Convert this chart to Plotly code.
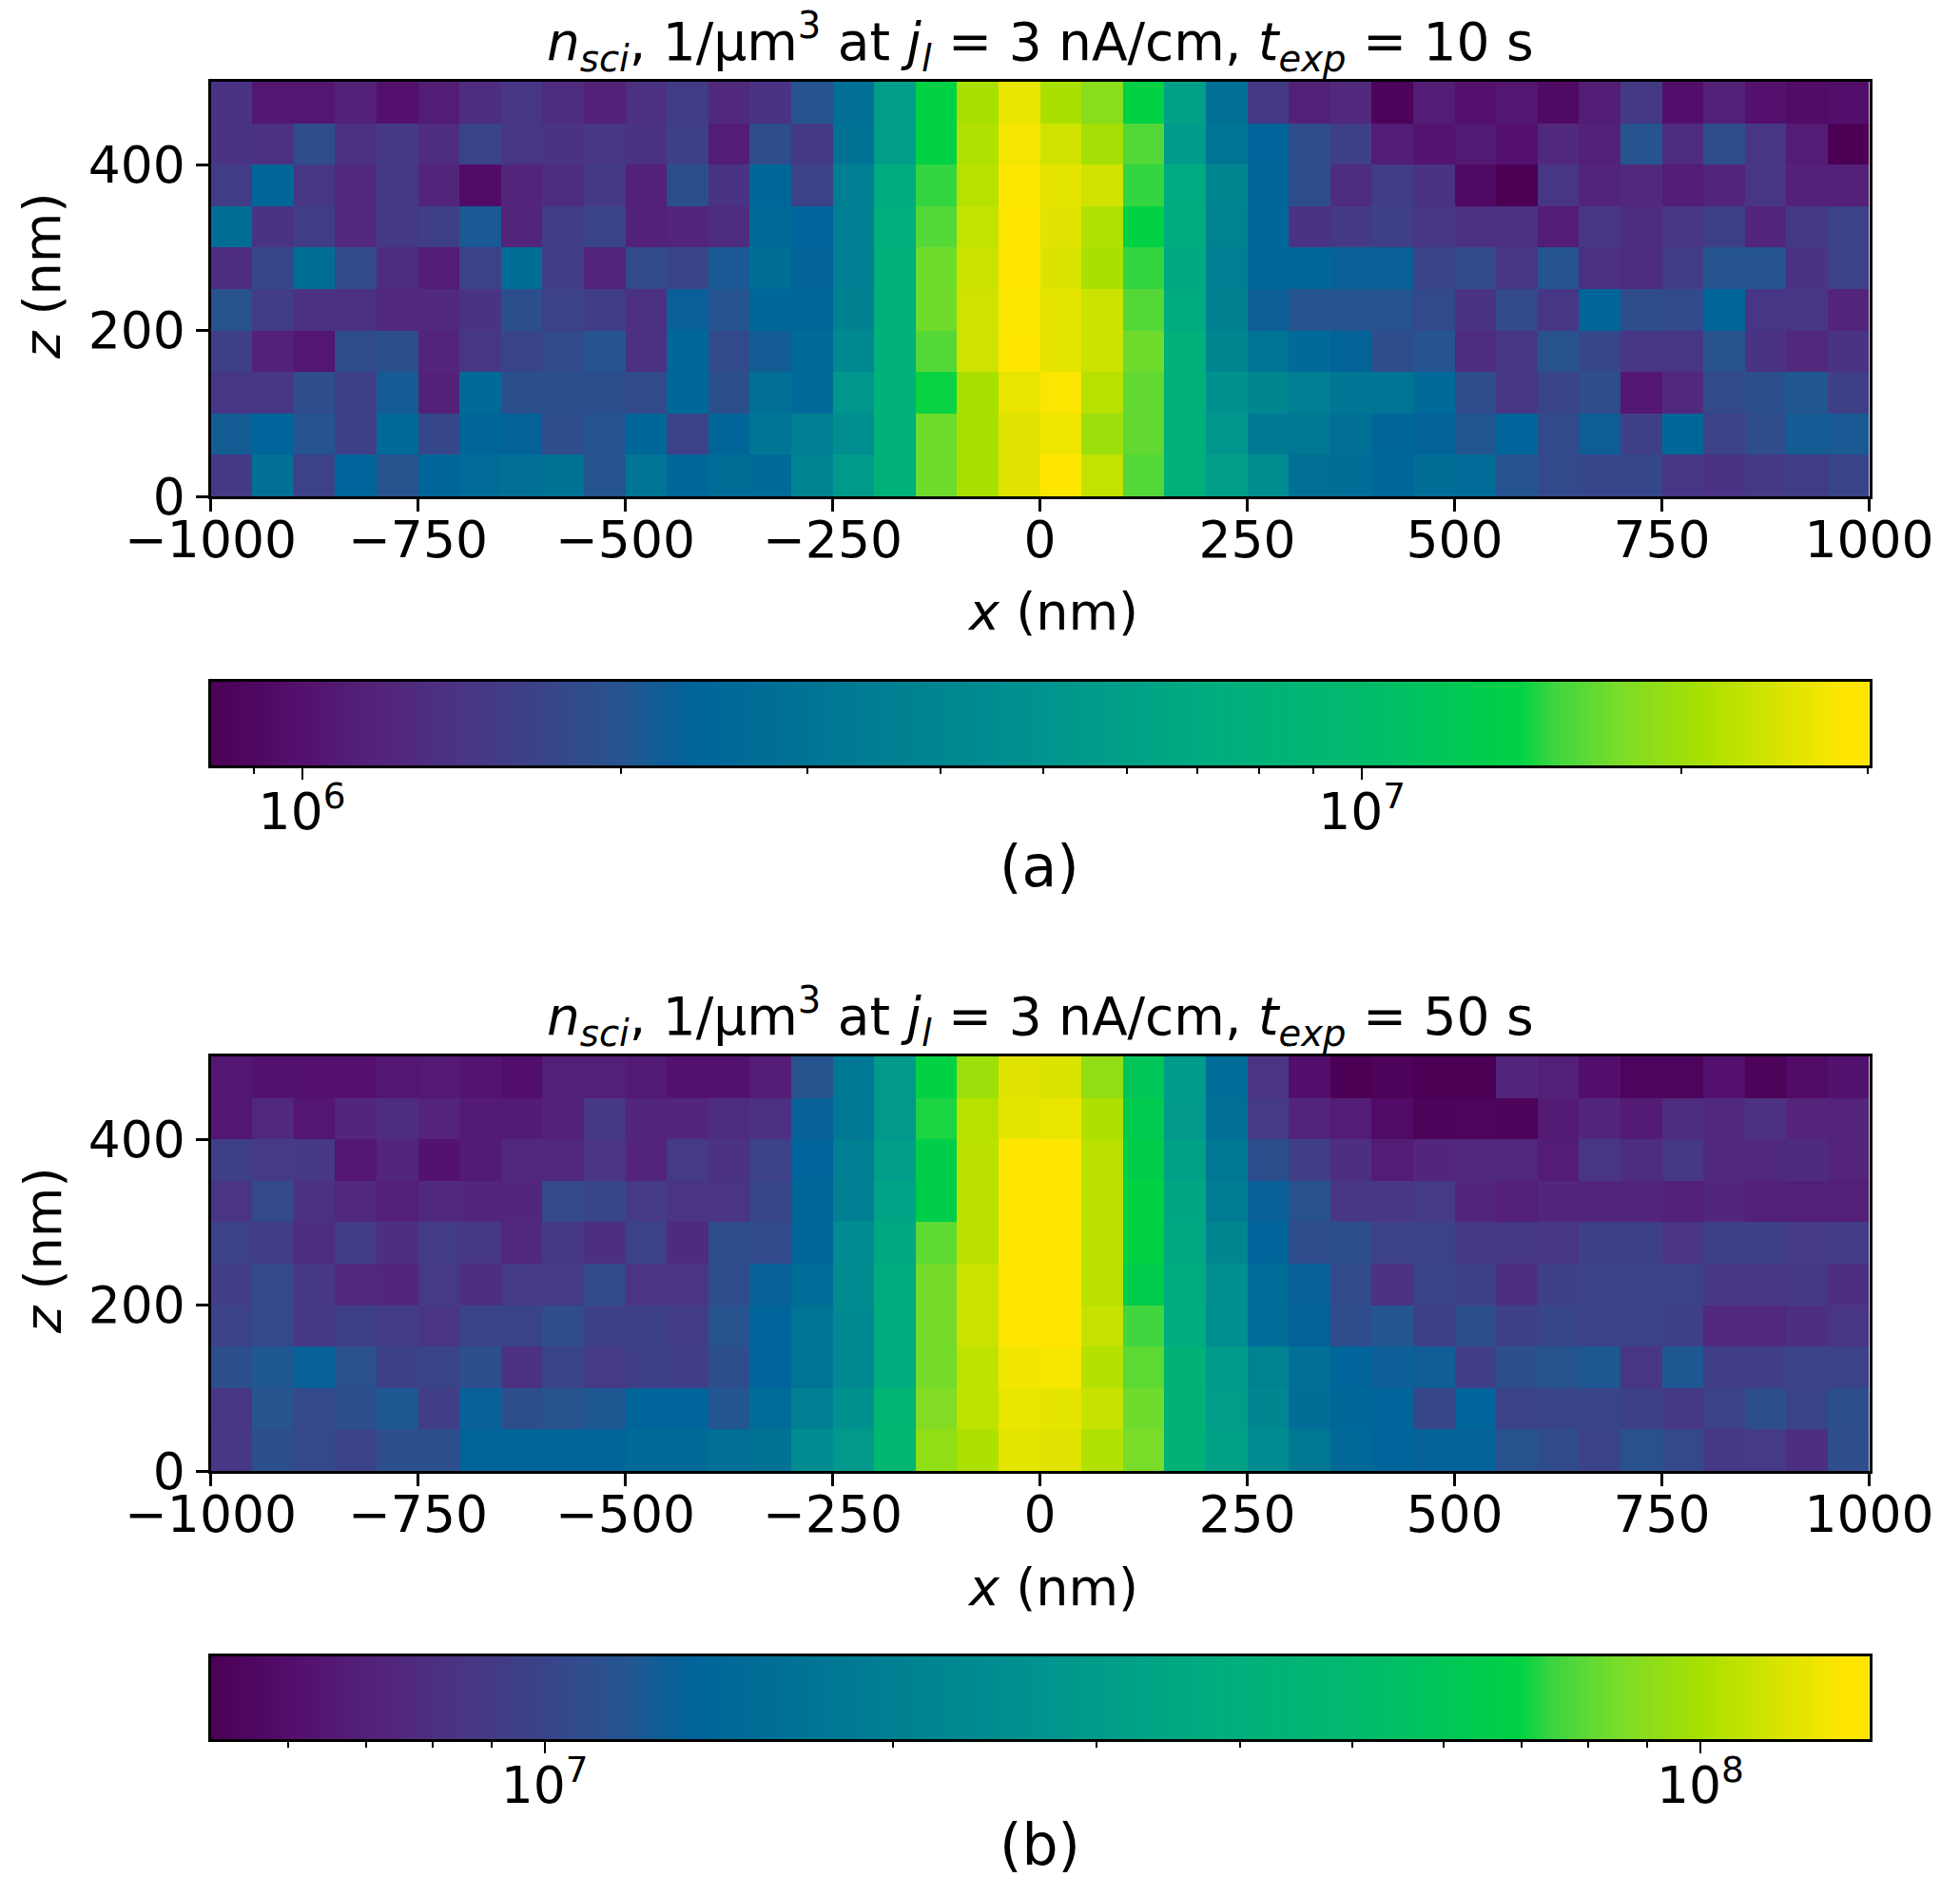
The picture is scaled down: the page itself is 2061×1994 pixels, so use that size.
import numpy as np
import plotly.graph_objects as go

W, H = 2061, 1994

# Cell centres (nm); rows listed from the top of the panel (z = 475) down to z = 25
x_nm = list(range(-975, 1000, 50))
z_nm = list(range(475, 0, -50))

# n_sci, in units of 10^6 per um^3, t_exp = 10 s
n_a = [
 [1.4,1.05,1.05,1.15,1.0,1.1,1.3,1.45,1.3,1.15,1.35,1.55,1.25,1.4,2.0,2.8,5.8,14,21,26.5, 21,18.5,14,6,2.8,1.5,1.15,1.25,.85,1.1,1.0,1.05,.92,1.1,1.5,.97,1.15,1.0,.95,.97],
 [1.4,1.35,1.85,1.35,1.5,1.3,1.7,1.45,1.4,1.45,1.4,1.6,1.1,1.85,1.5,2.9,5.8,14,21.5,27.5, 24,20.5,16,5.6,3.0,2.35,1.85,1.6,1.1,1.02,1.08,1.0,1.25,1.15,2.0,1.3,1.85,1.45,1.1,.82],
 [1.55,2.4,1.45,1.25,1.5,1.2,.95,1.2,1.3,1.5,1.15,1.9,1.4,2.45,1.65,3.5,7.2,15,22,28, 26,24,15,7,4,2.4,1.85,1.3,1.55,1.4,.92,.82,1.45,1.2,1.25,1.1,1.2,1.45,1.15,1.15],
 [2.7,1.4,1.55,1.25,1.5,1.6,2.1,1.2,1.55,1.7,1.15,1.2,1.3,2.6,2.35,3.6,7.4,16,23,29.5, 25.5,21.5,14,7.2,3.8,2.5,1.4,1.5,1.6,1.45,1.35,1.35,1.1,1.45,1.3,1.45,1.6,1.2,1.5,1.65],
 [1.3,1.75,2.7,1.8,1.3,1.1,1.65,2.7,1.55,1.2,1.8,1.7,2.1,2.75,2.3,3.6,8,17,23.5,29.5, 25,21,15,6.8,3.6,2.45,2.45,2.25,2.25,1.7,1.8,1.45,2.0,1.35,1.3,1.55,2.0,2.0,1.4,1.65],
 [1.95,1.55,1.35,1.35,1.25,1.25,1.4,1.9,1.65,1.55,1.35,2.25,2.0,2.5,2.5,3.7,8,17,24,28, 26,23.5,16,7.2,3.7,2.2,2.0,2.0,2.0,1.8,1.4,1.8,1.45,2.4,1.85,1.8,2.4,1.45,1.45,1.2],
 [1.6,1.15,1.05,1.85,1.9,1.2,1.45,1.7,1.8,2.0,1.35,2.45,1.8,2.15,2.55,4.2,8,16,24,29, 26,23.5,17,7.8,4,3.0,2.6,2.3,1.85,2.0,1.3,1.45,1.95,1.75,1.45,1.45,1.95,1.4,1.25,1.4],
 [1.45,1.45,1.85,1.6,2.15,1.15,2.55,1.9,1.9,1.9,1.8,2.5,1.9,2.8,2.6,5.2,8,14.3,21,26.5, 28,22,16.5,7.8,4.8,4,3.6,3.1,3.0,2.6,1.85,1.45,1.7,1.85,1.05,1.25,1.8,1.9,2.05,1.6],
 [2.15,2.35,2.0,1.6,2.55,1.75,2.4,2.3,1.85,2.0,2.45,1.65,2.4,3.1,3.6,4.6,8,17,21,25.5, 27,20,16.5,7.8,5.2,3.3,3.2,2.8,2.4,2.3,2.05,2.35,1.8,2.2,1.6,2.5,1.65,1.85,2.15,2.1],
 [1.5,2.8,1.65,2.35,1.95,2.4,2.65,2.8,2.95,2.0,3.0,2.45,2.7,2.55,3.9,5.5,8,17,21,25.5, 30,23,16,7.8,5.8,4.5,2.8,2.75,2.45,2.75,2.65,2.0,1.8,1.75,1.75,1.45,1.4,1.5,1.55,1.7],
]

# n_sci, in units of 10^6 per um^3, t_exp = 50 s
n_b = [
 [6.5,6.2,6.1,6.1,6.5,6.6,6.3,6.0,6.9,6.9,6.7,6.2,6.2,6.8,11.5,18,29,70,96,120, 118,92,60,30,15,8.5,6.0,5.15,5.3,5.1,5.15,7.3,6.9,6.0,5.4,5.4,6.1,5.3,5.8,6.2],
 [6.5,7.6,6.4,7.4,7.8,7.2,6.7,6.7,7.0,8.8,7.4,7.4,7.8,8.2,13,18,29,72,105,122, 125,102,64,29,16,9,7.3,6.8,5.8,5.3,5.4,5.3,6.7,7.4,6.7,7.8,7.5,8.2,7.2,7.2],
 [9.5,9,8.8,6.5,7.4,6.2,6.7,7.6,7.6,8.4,7.3,9,8.3,9.7,13.5,20,31,66,106,140, 140,106,66,32,18,11,9.4,8,6.8,7.4,7.5,7.5,6.8,8.6,7.8,8.8,7.6,7.6,7.7,7.2],
 [8.4,10.5,8.2,7.5,6.9,7.5,7.4,7.4,10.5,10.2,9,8.5,8.4,10.2,14,20,33,66,106,140, 140,106,70,34,19,13,11.3,8.7,8.7,9,7.4,6.9,7.4,7.3,7.3,7.0,7.4,7.0,6.9,6.9],
 [9.7,9.3,7.8,9.3,8,9.2,8.8,7.6,8.8,8,9.8,7.7,10.8,10.6,14,24,35,80,106,135, 140,106,70,35,22,13.5,10.8,11,9.7,9.7,8.8,8.8,8.6,9.6,9.6,8.5,9.6,9.6,9.0,9.2],
 [9.3,10.5,8.8,7.6,7.4,9,8,9,9,10.6,8.5,8.5,10.8,13,15,24,37,84,112,140, 140,106,65,37,25,15,13,10.6,8.3,10,9.6,8.0,9.6,9.8,9.8,9.8,8.7,8.7,8.8,8.0],
 [9.8,10.4,8.8,9.6,9.2,8.5,10,10,10.8,9.6,9.6,9.2,11.5,13.5,17,23,38,84,112,138, 140,110,75,38,25,15,13.2,10.8,11.8,9.6,11,9.5,10.2,9.8,9.8,9.5,7.6,7.6,8.0,8.6],
 [11,12,13,11.2,9.6,10,11,8.2,10,9,9.5,9.4,11,13.5,17,23,38,84,108,128, 130,104,80,42,30,21,16,13.6,12.8,12.6,9.4,11,11.5,12,8.6,12,9.4,9.4,9.8,9.8],
 [8.6,11.5,10.4,11,12,9.4,13,11,11.5,12,13.5,13.5,11.8,15,20,26,46,87,108,125, 122,110,83,42,31,22,15.5,14,13.5,10.2,13.5,9.8,10,10,9.6,8.8,9.7,11,10,11],
 [8.7,11,10.5,9.8,11,11,13.3,13.8,13.8,13.3,14.5,14.5,16,16.5,24,29,48,92,102,122, 120,103,85,42,32,24,18,14.5,13.5,13.2,13.2,11.5,10.7,9.8,11.3,10.5,8.8,9.0,8.0,10.8],
]

# Colour-scale limits (1/um^3)
vmin_a, vmax_a = 8.2e5, 3.01e7
vmin_b, vmax_b = 5.14e6, 1.40e8

# Colour-bar ticks
major_a = [1e6, 1e7]
major_a_text = ["10<sup>6</sup>", "10<sup>7</sup>"]
minor_a = [9e5, 2e6, 3e6, 4e6, 5e6, 6e6, 7e6, 8e6, 9e6, 2e7, 3e7]
major_b = [1e7, 1e8]
major_b_text = ["10<sup>7</sup>", "10<sup>8</sup>"]
minor_b = [6e6, 7e6, 8e6, 9e6, 2e7, 3e7, 4e7, 5e7, 6e7, 7e7, 8e7, 9e7]

x_ticks = [-1000, -750, -500, -250, 0, 250, 500, 750, 1000]
z_ticks = [0, 200, 400]

title_a = "<i>n<sub>sci</sub></i>, 1/µm<sup>3</sup> at <i>j<sub>l</sub></i> = 3 nA/cm, <i>t<sub>exp</sub></i> = 10 s"
title_b = "<i>n<sub>sci</sub></i>, 1/µm<sup>3</sup> at <i>j<sub>l</sub></i> = 3 nA/cm, <i>t<sub>exp</sub></i> = 50 s"

cmap = [
 [0.00, "#4b0055"], [0.05, "#530f6c"], [0.10, "#53237a"], [0.15, "#4a3484"],
 [0.20, "#3a4388"], [0.25, "#245590"], [0.29, "#00649a"], [0.40, "#007d92"],
 [0.50, "#00938f"], [0.60, "#00ac80"], [0.70, "#00bb6a"], [0.79, "#00d244"],
 [0.81, "#3dd640"], [0.85, "#7bdc28"], [0.90, "#aae000"], [0.95, "#dde400"],
 [0.97, "#efe600"], [0.985, "#ffe600"], [1.00, "#ffe600"],
]

FONT = "DejaVu Sans"
TICK = 53.5
LABEL = 54
TITLE = 55
TAG = 60


def px(x):
    return x / W


def py(y):
    return 1 - y / H


LEFT, RIGHT = 221.5, 1965.5
panels = [
    dict(n=n_a, top=86, bottom=522, bar_top=717, bar_bottom=805, vmin=vmin_a, vmax=vmax_a,
         major=major_a, text=major_a_text, minor=minor_a, title=title_a, tag="(a)",
         title_y=44, xlab_y=644, ylab_y=290, tag_y=911),
    dict(n=n_b, top=1111, bottom=1547, bar_top=1742, bar_bottom=1829, vmin=vmin_b, vmax=vmax_b,
         major=major_b, text=major_b_text, minor=minor_b, title=title_b, tag="(b)",
         title_y=1069, xlab_y=1669, ylab_y=1315, tag_y=1940),
]

fig = go.Figure()
layout = {}
annotations = []
for i, p in enumerate(panels):
    ax = 2 * i + 1
    bx = 2 * i + 2
    ax_s = "" if ax == 1 else str(ax)
    bx_s = str(bx)
    lo, hi = np.log10(p["vmin"]), np.log10(p["vmax"])
    fig.add_trace(go.Heatmap(
        x=x_nm, y=z_nm, z=np.log10(np.array(p["n"]) * 1e6), zmin=lo, zmax=hi,
        colorscale=cmap, xaxis="x" + ax_s, yaxis="y" + ax_s, showscale=False,
    ))
    # colour bar: the same colour scale laid out along its own logarithmic axis
    ramp = np.linspace(lo, hi, 512)
    fig.add_trace(go.Heatmap(
        x=ramp.tolist(), y=[0.5], z=[ramp.tolist()], zmin=lo, zmax=hi,
        colorscale=cmap, xaxis="x" + bx_s, yaxis="y" + bx_s, showscale=False, hoverinfo="skip",
    ))
    common = dict(showline=True, linewidth=3, linecolor="black", mirror=True, ticks="outside",
                  ticklen=13, tickwidth=3, tickcolor="black", showgrid=False, zeroline=False,
                  automargin=False, tickfont=dict(family=FONT, size=TICK, color="black"))
    layout["xaxis" + ax_s] = dict(domain=[px(LEFT), px(RIGHT)], anchor="y" + ax_s, range=[-1000, 1000],
                                  tickmode="array", tickvals=x_ticks, ticklabelstandoff=-16, **common)
    layout["yaxis" + ax_s] = dict(domain=[py(p["bottom"]), py(p["top"])], anchor="x" + ax_s, range=[0, 500],
                                  tickmode="array", tickvals=z_ticks, **common)
    layout["xaxis" + bx_s] = dict(
        domain=[px(LEFT), px(RIGHT)], anchor="y" + bx_s, range=[lo, hi], showline=True, linewidth=3,
        linecolor="black", mirror=True, showgrid=False, zeroline=False, ticks="outside", ticklen=12,
        automargin=False, tickwidth=2, tickcolor="black", tickmode="array", ticklabelstandoff=-12,
        tickvals=np.log10(p["major"]).tolist(), ticktext=p["text"],
        tickfont=dict(family=FONT, size=TICK, color="black"),
        minor=dict(tickmode="array", tickvals=np.log10(p["minor"]).tolist(), ticks="outside",
                   ticklen=6, tickwidth=1.5, tickcolor="black", showgrid=False),
    )
    layout["yaxis" + bx_s] = dict(domain=[py(p["bar_bottom"]), py(p["bar_top"])], anchor="x" + bx_s,
                                  range=[0, 1], showline=True, linewidth=3, linecolor="black", mirror=True,
                                  automargin=False, showgrid=False, zeroline=False, ticks="", showticklabels=False)
    annotations += [
        dict(text=p["title"], x=px(1094), y=py(p["title_y"]), yanchor="middle", font_size=TITLE),
        dict(text="<i>x</i> (nm)", x=px(1107), y=py(p["xlab_y"]), yanchor="middle", font_size=LABEL),
        dict(text="<i>z</i> (nm)", x=px(45), y=py(p["ylab_y"]), yanchor="middle", font_size=LABEL, textangle=-90),
        dict(text=p["tag"], x=px(1093), y=py(p["tag_y"]), yanchor="middle", font_size=TAG),
    ]

for a in annotations:
    size = a.pop("font_size")
    a.update(xref="paper", yref="paper", xanchor="center", showarrow=False,
             font=dict(family=FONT, size=size, color="black"))

fig.update_layout(width=W, height=H, margin=dict(l=0, r=0, t=0, b=0), autosize=False,
                  paper_bgcolor="white", plot_bgcolor="white", showlegend=False,
                  font=dict(family=FONT, color="black"), annotations=annotations, **layout)

fig.write_html("out.html", config=dict(displayModeBar=False),
               post_script="document.body.style.margin='0';document.body.style.overflow='hidden';")
